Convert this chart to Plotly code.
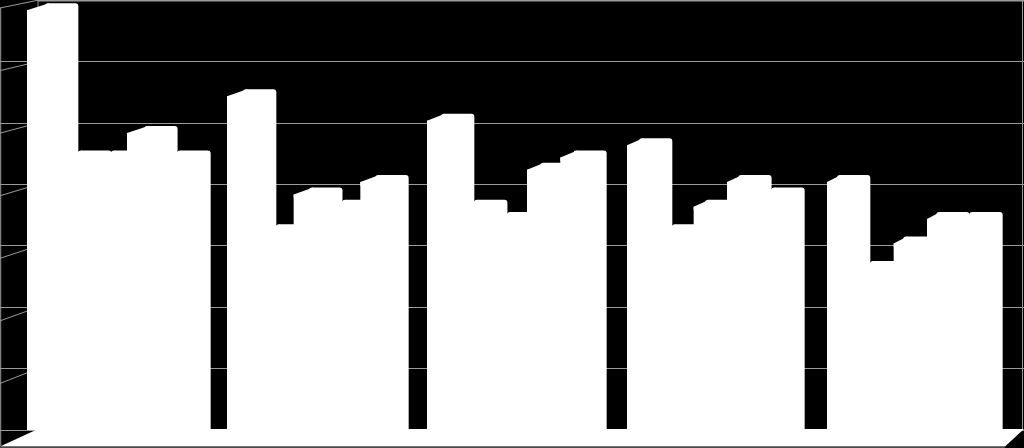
import plotly.graph_objects as go

groups = [1, 2, 3, 4, 5]
series_1 = [35, 28, 26, 24, 21]
series_2 = [23, 17, 19, 17, 14]
series_3 = [23, 20, 18, 19, 16]
series_4 = [25, 19, 22, 21, 18]
series_5 = [23, 21, 23, 20, 18]
all_series = [series_1, series_2, series_3, series_4, series_5]
grid_step = 5

W, H = 1024, 448
PITCH = 200.0
X0 = 27.0
FLOOR_Y = 430.0
PX_PER_UNIT = 12.28
GRID = "#9a9a9a"

def xu(px):
    return (px - X0) / PITCH

def yu(py):
    return (FLOOR_Y - py) / PX_PER_UNIT

bar_w = 1 / 6
lift = 3 / PX_PER_UNIT
slant = 7 / PX_PER_UNIT

fig = go.Figure()
for s, values in enumerate(all_series):
    left = [g + s * bar_w for g in range(len(groups))]
    depth = [(18 - 2 * g - s * 0.25) / PITCH for g in range(len(groups))]
    top = [v - lift for v in values]
    front_top = [t - slant for t in top]
    # front face
    fig.add_trace(go.Bar(x=[l + bar_w / 2 for l in left], y=front_top, width=bar_w,
                         marker=dict(color="white", line=dict(width=0), cornerradius=0), showlegend=False))
    # top / side silhouette
    fig.add_trace(go.Bar(x=[l + d + bar_w / 2 for l, d in zip(left, depth)], y=top, width=bar_w,
                         marker=dict(color="white", line=dict(width=0), cornerradius=3), showlegend=False))
    # slanted top edge
    for l, d, t, f in zip(left, depth, top, front_top):
        fig.add_trace(go.Scatter(x=[l, l + d + 0.02, l + d + 0.02, l], y=[f, t, f - 0.3, f - 0.3],
                                 mode="lines", fill="toself", fillcolor="white",
                                 line=dict(width=0, color="white"), showlegend=False,
                                 hoverinfo="skip"))

shapes = []
# hide the back-wall grid over the side wall
shapes.append(dict(type="rect", xref="x", yref="paper", x0=xu(-2), x1=xu(38), y0=0, y1=1,
                   fillcolor="black", line_width=0, layer="between"))
# side wall lines, converging on the back corner
n = int(35 / grid_step)
for i in range(1, n + 1):
    back = FLOOR_Y - i * grid_step * PX_PER_UNIT
    front = 446 - i * (446 - 8) / n
    shapes.append(dict(type="line", xref="x", yref="y", x0=xu(0), x1=xu(38),
                       y0=yu(front), y1=yu(back), line=dict(color=GRID, width=1), layer="between"))
# frame
shapes.append(dict(type="line", xref="x", yref="y", x0=xu(0.7), x1=xu(0.7), y0=yu(446), y1=yu(8),
                   line=dict(color=GRID, width=1), layer="between"))
shapes.append(dict(type="line", xref="x", yref="y", x0=xu(38), x1=xu(38), y0=yu(12), y1=yu(0),
                   line=dict(color=GRID, width=1), layer="between"))
shapes.append(dict(type="line", xref="x", yref="paper", x0=xu(1022.5), x1=xu(1022.5), y0=(448 - 430) / 448, y1=1,
                   line=dict(color=GRID, width=1), layer="between"))
shapes.append(dict(type="line", xref="x", yref="y", x0=xu(38), x1=xu(1024), y0=yu(0.7), y1=yu(0.7),
                   line=dict(color=GRID, width=1.5), layer="between"))
# floor
pts = [(0, 446.5), (38, 429), (1024, 429), (1005, 446.5)]
path = "M " + " L ".join(f"{xu(a)},{yu(b)}" for a, b in pts) + " Z"
shapes.append(dict(type="path", xref="x", yref="y", path=path, fillcolor="white", line_width=0, layer="between"))
# bottom edge
shapes.append(dict(type="line", xref="x", yref="y", x0=xu(0), x1=xu(1005), y0=yu(447.3), y1=yu(447.3),
                   line=dict(color="#4a4a4a", width=1.2), layer="between"))

fig.update_layout(
    width=W, height=H, margin=dict(l=0, r=0, t=0, b=0),
    paper_bgcolor="black", plot_bgcolor="black",
    barmode="overlay", showlegend=False, shapes=shapes,
    xaxis=dict(range=[xu(0), xu(W)], showgrid=False, zeroline=False, showticklabels=False, ticks="", visible=False),
    yaxis=dict(range=[yu(H), yu(0)], dtick=grid_step, tick0=0, showgrid=True, gridcolor=GRID, gridwidth=1,
               zeroline=False, showticklabels=False, ticks=""),
)
fig.write_html("out.html", config=dict(displayModeBar=False),
               post_script="document.body.style.margin='0';document.documentElement.style.background='black';")
